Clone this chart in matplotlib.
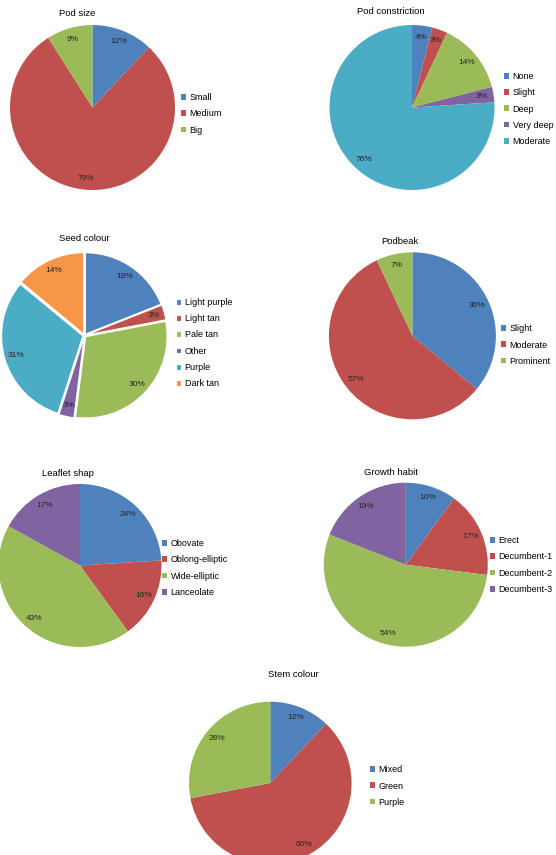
import matplotlib.pyplot as plt

plt.rcParams['font.family'] = ['Liberation Sans', 'DejaVu Sans']

W, H = 556, 855

# Excel 2007 default palette
BLUE, RED, GREEN, PURPLE, AQUA, ORANGE = '#4F81BD', '#C0504D', '#9BBB59', '#8064A2', '#4BACC6', '#F79646'

# Data
pod_size_labels = ['Small', 'Medium', 'Big']
pod_size_values = [12, 79, 9]

pod_constr_labels = ['None', 'Slight', 'Deep', 'Very deep', 'Moderate']
pod_constr_values = [4, 3, 14, 3, 76]

seed_labels = ['Light purple', 'Light tan', 'Pale tan', 'Other', 'Purple', 'Dark tan']
seed_values = [19, 3, 30, 3, 31, 14]

podbeak_labels = ['Slight', 'Moderate', 'Prominent']
podbeak_values = [36, 57, 7]

leaflet_labels = ['Obovate', 'Oblong-elliptic', 'Wide-elliptic', 'Lanceolate']
leaflet_values = [24, 16, 43, 17]

growth_labels = ['Erect', 'Decumbent-1', 'Decumbent-2', 'Decumbent-3']
growth_values = [10, 17, 54, 19]

stem_labels = ['Mixed', 'Green', 'Purple']
stem_values = [12, 60, 28]

colors = [BLUE, RED, GREEN, PURPLE, AQUA, ORANGE]

fig = plt.figure(figsize=(W / 100, H / 100), dpi=100)
fig.patch.set_facecolor('white')


def draw_pie(title, labels, values, cx, cy, r, title_xy, leg_xy, exploded=False):
    ax = fig.add_axes([(cx - r) / W, 1 - (cy + r) / H, 2 * r / W, 2 * r / H])
    kw = {}
    if exploded:
        kw['explode'] = [0.02] * len(values)
        kw['wedgeprops'] = dict(edgecolor='white', linewidth=0.8)
        radius = 0.98
    else:
        radius = 1.0
    wedges, texts, autotexts = ax.pie(values, colors=colors[:len(values)], startangle=90,
                                      counterclock=False, radius=radius,
                                      autopct='%d%%', pctdistance=0.86, **kw)
    ax.set_xlim(-1, 1)
    ax.set_ylim(-1, 1)
    ax.axis('off')
    for t in autotexts:
        t.set_fontsize(6)
        t.set_color('#262626')
    fig.text(title_xy[0] / W, 1 - title_xy[1] / H, title, ha='center', va='center',
             fontsize=6.8, color='black')
    fig.legend(wedges, labels, loc='center left',
               bbox_to_anchor=(leg_xy[0] / W, 1 - leg_xy[1] / H),
               frameon=False, fontsize=6.5, handlelength=0.6, handleheight=0.6,
               handletextpad=0.35, labelspacing=0.8, borderpad=0, borderaxespad=0)


draw_pie('Pod size', pod_size_labels, pod_size_values, 92.5, 107.5, 82.5, (77, 13), (181, 114))
draw_pie('Pod constriction', pod_constr_labels, pod_constr_values, 412, 107.5, 82.5, (391, 11), (504, 109))
draw_pie('Seed colour', seed_labels, seed_values, 84.5, 335.5, 83, (84, 238), (176, 343), exploded=True)
draw_pie('Podbeak', podbeak_labels, podbeak_values, 412.4, 335.8, 83.5, (400, 241), (501, 345))
draw_pie('Leaflet shap', leaflet_labels, leaflet_values, 80, 565.5, 81.5, (68, 474), (162, 568))
draw_pie('Growth habit', growth_labels, growth_values, 405.8, 564.7, 82, (391, 472), (490, 565))
draw_pie('Stem colour', stem_labels, stem_values, 270.3, 783, 81.3, (293, 674), (370, 786))

fig.savefig('out.png', dpi=100)
